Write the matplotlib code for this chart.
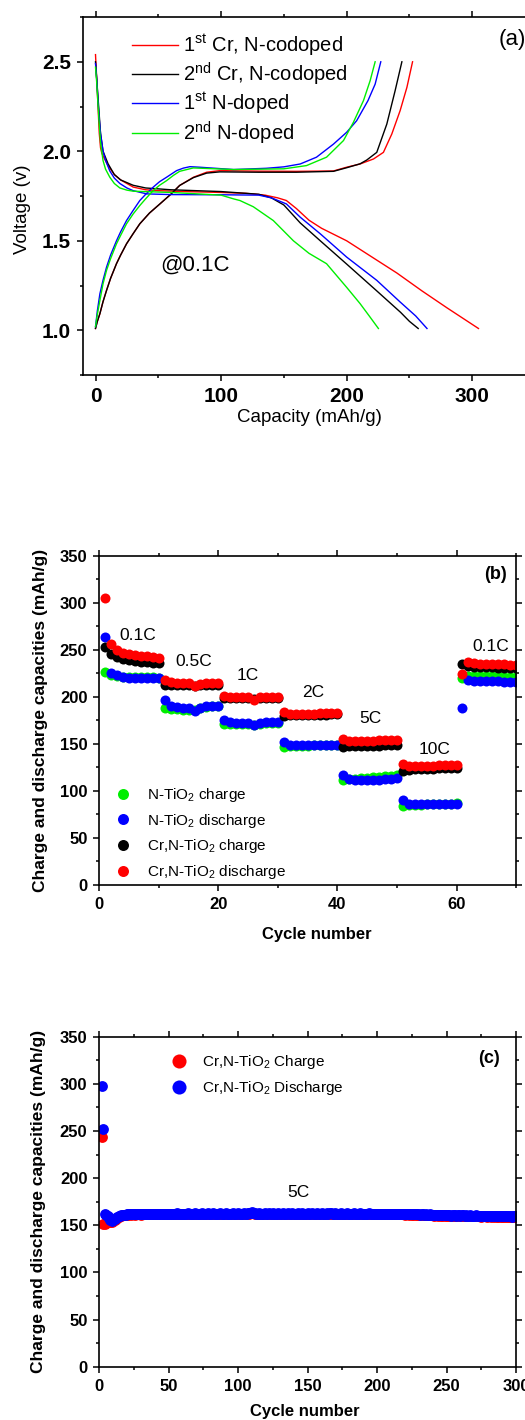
import matplotlib
matplotlib.use("Agg")
import matplotlib.pyplot as plt
from matplotlib.ticker import MultipleLocator

plt.rcParams['font.family'] = ['Liberation Sans', 'DejaVu Sans']
plt.rcParams['mathtext.fontset'] = 'custom'
plt.rcParams['mathtext.rm'] = 'Liberation Sans'
plt.rcParams['mathtext.it'] = 'Liberation Sans:italic'
plt.rcParams['mathtext.bf'] = 'Liberation Sans:bold'
plt.rcParams['axes.linewidth'] = 1.2

# ---------------- (a) charge / discharge profiles @0.1C ----------------
cr1_dis_x = [0, 1, 2, 3, 4, 5, 7, 10, 15, 20, 25, 30, 40, 50, 70, 100, 120, 135, 145, 152, 160, 170, 180, 190, 200, 220, 240, 260, 280, 305]
cr1_dis_v = [2.54, 2.40, 2.25, 2.10, 2.02, 1.99, 1.96, 1.92, 1.87, 1.84, 1.82, 1.80, 1.785, 1.78, 1.775, 1.77, 1.765, 1.755, 1.74, 1.725, 1.68, 1.615, 1.57, 1.535, 1.50, 1.41, 1.32, 1.22, 1.125, 1.01]
cr1_chg_x = [0, 1.5, 3.5, 6, 8.8, 12, 16.7, 20, 24.7, 30, 35.3, 43, 51.3, 60, 67, 78, 88.5, 99, 130, 160, 189.5, 200, 210.7, 221.4, 229.3, 236, 242.6, 248, 252.5]
cr1_chg_v = [1.01, 1.05, 1.093, 1.16, 1.223, 1.29, 1.372, 1.42, 1.483, 1.54, 1.595, 1.655, 1.706, 1.76, 1.809, 1.855, 1.883, 1.892, 1.889, 1.888, 1.89, 1.911, 1.929, 1.957, 1.994, 2.097, 2.227, 2.357, 2.50]

cr2_dis_x = [0, 1, 2, 4, 6, 10, 15, 20, 30, 40, 60, 100, 130, 140, 150, 163, 179, 200, 224, 243, 250, 257]
cr2_dis_v = [2.50, 2.40, 2.30, 2.10, 2.00, 1.93, 1.87, 1.84, 1.81, 1.795, 1.785, 1.775, 1.76, 1.74, 1.70, 1.60, 1.50, 1.37, 1.22, 1.10, 1.05, 1.01]
cr2_chg_x = [0, 1.5, 3.5, 6, 8.8, 12, 16.7, 20, 24.7, 30, 35.3, 43, 51.3, 60, 67, 78, 88.5, 99, 130, 160, 189.5, 200, 210.7, 216, 224, 232, 238.6, 244]
cr2_chg_v = [1.01, 1.05, 1.093, 1.16, 1.223, 1.29, 1.372, 1.42, 1.483, 1.54, 1.595, 1.655, 1.706, 1.76, 1.809, 1.853, 1.878, 1.885, 1.883, 1.883, 1.888, 1.908, 1.93, 1.951, 1.994, 2.152, 2.338, 2.50]

n1_dis_x = [0, 1, 2, 3, 4, 6, 8, 11.4, 15, 19.4, 25, 30, 40.7, 60, 100, 130, 140, 152, 163, 179, 200, 224, 242.6, 255, 264]
n1_dis_v = [2.49, 2.40, 2.28, 2.18, 2.10, 2.00, 1.95, 1.89, 1.85, 1.82, 1.795, 1.78, 1.762, 1.758, 1.757, 1.755, 1.74, 1.706, 1.632, 1.539, 1.409, 1.279, 1.158, 1.08, 1.01]
n1_chg_x = [0, 1.5, 3.5, 6, 8.8, 12, 16.7, 20, 24.7, 30, 35.3, 40, 46, 51, 56.6, 64.6, 70, 75.2, 83, 110, 136, 150, 163, 176, 189.5, 200, 208, 217, 222.7, 227.2]
n1_chg_v = [1.02, 1.11, 1.204, 1.28, 1.353, 1.42, 1.50, 1.55, 1.613, 1.67, 1.725, 1.76, 1.80, 1.83, 1.855, 1.892, 1.906, 1.914, 1.911, 1.898, 1.905, 1.913, 1.929, 1.967, 2.04, 2.106, 2.171, 2.283, 2.375, 2.50]

n2_dis_x = [0, 1, 2, 3, 4, 6, 8, 11.4, 15, 19.4, 25, 30, 60, 100, 110, 115, 125.7, 141.6, 157.6, 170, 184, 200, 210.7, 218, 225.3]
n2_dis_v = [2.47, 2.38, 2.26, 2.15, 2.05, 1.948, 1.90, 1.855, 1.82, 1.795, 1.783, 1.777, 1.77, 1.755, 1.734, 1.725, 1.69, 1.613, 1.50, 1.43, 1.372, 1.24, 1.149, 1.08, 1.01]
n2_chg_x = [0, 1.5, 3.5, 6, 8.8, 12, 16.7, 20, 24.7, 30, 35.3, 40, 46, 51, 56.6, 62, 67, 77.9, 110, 150, 168, 184, 197.5, 205.4, 213.4, 218.7, 222.7]
n2_chg_v = [1.02, 1.09, 1.167, 1.26, 1.335, 1.40, 1.483, 1.53, 1.595, 1.65, 1.697, 1.735, 1.781, 1.81, 1.836, 1.865, 1.888, 1.907, 1.898, 1.902, 1.92, 1.967, 2.06, 2.162, 2.283, 2.394, 2.50]

# ---------------- (b) rate capability ----------------
cycles_b = list(range(1, 71))
n_charge = [226, 223, 222, 221, 221, 221, 221, 221, 221, 220,
            188, 187, 187, 186, 186, 186, 188, 189, 190, 190,
            171, 171, 171, 171, 171, 170, 171, 172, 172, 172,
            147, 148, 148, 148, 148, 149, 149, 149, 149, 149,
            112, 113, 113, 114, 114, 115, 115, 116, 116, 117,
            84, 85, 85, 85, 86, 86, 86, 86, 86, 87,
            220, 222, 222, 222, 222, 222, 222, 221, 221, 221]
n_discharge = [264, 225, 223, 221, 220, 220, 220, 220, 220, 220,
               197, 190, 189, 188, 188, 185, 188, 190, 190, 190,
               175, 173, 172, 172, 172, 170, 172, 173, 173, 173,
               152, 149, 149, 149, 149, 149, 149, 149, 149, 149,
               117, 113, 112, 112, 112, 112, 112, 113, 113, 114,
               90, 86, 86, 86, 86, 86, 86, 86, 86, 86,
               188, 218, 217, 217, 217, 217, 217, 216, 216, 216]
crn_charge = [253, 245, 242, 240, 239, 238, 237, 237, 236, 236,
              213, 212, 212, 212, 212, 211, 212, 213, 213, 213,
              199, 199, 199, 199, 199, 198, 199, 199, 199, 199,
              180, 181, 181, 181, 181, 181, 181, 181, 182, 182,
              147, 148, 148, 148, 148, 148, 148, 149, 149, 149,
              121, 122, 123, 123, 123, 123, 124, 124, 124, 124,
              235, 233, 232, 232, 232, 232, 231, 231, 231, 231]
crn_discharge = [305, 256, 250, 247, 245, 244, 243, 243, 242, 241,
                 218, 216, 215, 215, 215, 211, 214, 215, 215, 215,
                 201, 200, 200, 200, 200, 197, 200, 200, 200, 200,
                 184, 182, 182, 182, 182, 182, 183, 183, 183, 183,
                 155, 153, 153, 153, 153, 153, 154, 154, 154, 154,
                 129, 126, 126, 126, 126, 126, 127, 127, 127, 127,
                 224, 237, 236, 235, 235, 235, 235, 235, 234, 234]
rate_labels = ['0.1C', '0.5C', '1C', '2C', '5C', '10C', '0.1C']
rate_label_x = [6.5, 15.8, 24.9, 35.9, 45.5, 56.3, 65.7]
rate_label_y = [264.6, 237.4, 222.5, 204.4, 177, 144.2, 253.3]

# ---------------- (c) long cycling at 5C ----------------
cycles_c = list(range(2, 302))
long_discharge = [
    298, 252, 162, 161, 160, 158, 156, 155, 156, 157, 158, 159, 160, 160, 161, 161, 161, 161, 161.5, 161.5,
    162, 161.5, 162, 162, 161.5, 162, 162, 162, 161.5, 162, 162, 162, 162.5, 162, 162, 162, 162.5, 162, 162, 162.5,
    162, 162.5, 162.5, 162, 162.5, 162.5, 162, 162.5, 162.5, 162.5, 162, 162.5, 162.5, 162.5, 163, 162.5, 162.5, 162.5, 162, 162.5,
    162.5, 162.5, 163, 162.5, 162.5, 162.5, 162.5, 163, 162.5, 162.5, 162.5, 162.5, 163, 162.5, 162.5, 162.5, 163, 162.5, 162.5, 162.5,
    163, 162.5, 162.5, 162.5, 162.5, 163, 162.5, 162.5, 162.5, 163, 162.5, 162.5, 162.5, 162.5, 163, 162.5, 162.5, 162.5, 163, 162.5,
    162.5, 162.5, 163, 162.5, 162.5, 163, 163, 163.5, 164, 163.5, 163, 162.5, 162.5, 163, 162.5, 162.5, 162.5, 163, 162.5, 162.5,
    163, 162.5, 162.5, 163, 162.5, 162.5, 162.5, 163, 162.5, 162.5, 163, 162.5, 162.5, 162.5, 163, 162.5, 162.5, 163, 162.5, 162.5,
    162.5, 163, 162.5, 162.5, 163, 162.5, 162.5, 162.5, 163, 162.5, 162.5, 163, 162.5, 162.5, 162.5, 163, 162.5, 162.5, 163, 162.5,
    162.5, 162.5, 163, 162.5, 163, 163, 162.5, 162.5, 163, 162.5, 162.5, 162.5, 163, 162.5, 162.5, 162.5, 163, 162.5, 162.5, 162.5,
    162.5, 163, 162.5, 162.5, 162.5, 162.5, 163, 162.5, 162.5, 162.5, 162.5, 162.5, 163, 162.5, 162.5, 162.5, 162.5, 162, 162.5, 162.5,
    162.5, 162, 162.5, 162.5, 162, 162.5, 162, 162.5, 162, 162, 162.5, 162, 162, 162, 162.5, 162, 162, 162, 161.5, 162,
    162, 161.5, 162, 161.5, 161.5, 162, 161.5, 161.5, 161.5, 161, 161.5, 161.5, 161, 161.5, 161, 161, 161.5, 161, 161, 160.5,
    161, 161, 160.5, 161, 160.5, 160.5, 161, 160.5, 160.5, 160.5, 160.5, 160, 160.5, 160.5, 160.5, 160, 160.5, 160.5, 160, 160.5,
    160.5, 160, 160.5, 160, 160, 160.5, 160, 160, 160, 160.5, 160, 160, 160, 159.5, 160, 160, 160, 159.5, 160, 160,
    159.5, 160, 159.5, 160, 159.5, 159.5, 160, 159.5, 159.5, 159.5, 160, 159.5, 159.5, 159.5, 159.5, 159, 159.5, 159.5, 159.5, 159.5]
long_charge = [
    244, 151, 151, 152, 153, 154, 154, 154, 155, 156, 157, 158, 159, 159.5, 160, 160.5, 160.5, 160.5, 161, 161,
    161.5, 161, 161.5, 161.5, 161, 161.5, 161.5, 161.5, 161, 161.5, 161.5, 161.5, 162, 161.5, 161.5, 161.5, 162, 161.5, 161.5, 162,
    161.5, 162, 162, 161.5, 162, 162, 161.5, 162, 162, 162, 161.5, 162, 162, 162, 162.5, 162, 162, 162, 161.5, 162,
    162, 162, 162.5, 162, 162, 162, 162, 162.5, 162, 162, 162, 162, 162.5, 162, 162, 162, 162.5, 162, 162, 162,
    162.5, 162, 162, 162, 162, 162.5, 162, 162, 162, 162.5, 162, 162, 162, 162, 162.5, 162, 162, 162, 162.5, 162,
    162, 162, 162.5, 162, 162, 162.5, 162.5, 163, 163.5, 163, 162.5, 162, 162, 162.5, 162, 162, 162, 162.5, 162, 162,
    162.5, 162, 162, 162.5, 162, 162, 162, 162.5, 162, 162, 162.5, 162, 162, 162, 162.5, 162, 162, 162.5, 162, 162,
    162, 162.5, 162, 162, 162.5, 162, 162, 162, 162.5, 162, 162, 162.5, 162, 162, 162, 162.5, 162, 162, 162.5, 162,
    162, 162, 162.5, 162, 162.5, 162.5, 162, 162, 162.5, 162, 162, 162, 162.5, 162, 162, 162, 162.5, 162, 162, 162,
    162, 162.5, 162, 162, 162, 162, 162.5, 162, 162, 162, 162, 162, 162.5, 162, 162, 162, 162, 161.5, 162, 162,
    162, 161.5, 162, 162, 161.5, 162, 161.5, 162, 161.5, 161.5, 162, 161.5, 161.5, 161.5, 162, 161.5, 161.5, 161.5, 161, 161.5,
    161.5, 161, 161.5, 161, 161, 161.5, 161, 161, 161, 160.5, 161, 161, 160.5, 161, 160.5, 160.5, 161, 160.5, 160.5, 160,
    160.5, 160.5, 160, 160.5, 160, 160, 160.5, 160, 160, 160, 160, 159.5, 160, 160, 160, 159.5, 160, 160, 159.5, 160,
    160, 159.5, 160, 159.5, 159.5, 160, 159.5, 159.5, 159.5, 160, 159.5, 159.5, 159.5, 159, 159.5, 159.5, 159.5, 159, 159.5, 159.5,
    159, 159.5, 159, 159.5, 159, 159, 159.5, 159, 159, 159, 159.5, 159, 159, 159, 159, 158.5, 159, 159, 159, 159]


def style_ticks(ax, size):
    ax.tick_params(which='both', direction='out', top=True, right=True, width=1.1)
    ax.tick_params(which='major', length=4.5, pad=4, labelsize=size)
    ax.tick_params(which='minor', length=2.5)
    for lab in ax.get_xticklabels() + ax.get_yticklabels():
        lab.set_fontweight('bold')


fig = plt.figure(figsize=(5.25, 14.2), dpi=100)

# ---- panel (a)
ax1 = fig.add_axes([0.158, 0.7359, 0.861, 0.2521])
ax1.plot(cr1_dis_x, cr1_dis_v, color='#ff0000', lw=1.0, label=r'1$^{\mathrm{st}}$ Cr, N-codoped')
ax1.plot(cr1_chg_x, cr1_chg_v, color='#ff0000', lw=1.0)
ax1.plot(cr2_dis_x, cr2_dis_v, color='black', lw=1.0, label=r'2$^{\mathrm{nd}}$ Cr, N-codoped')
ax1.plot(cr2_chg_x, cr2_chg_v, color='black', lw=1.0)
ax1.plot(n1_dis_x, n1_dis_v, color='#0000ff', lw=1.0, label=r'1$^{\mathrm{st}}$ N-doped')
ax1.plot(n1_chg_x, n1_chg_v, color='#0000ff', lw=1.0)
ax1.plot(n2_dis_x, n2_dis_v, color='#00ee00', lw=1.0, label=r'2$^{\mathrm{nd}}$ N-doped')
ax1.plot(n2_chg_x, n2_chg_v, color='#00ee00', lw=1.0)
ax1.set_xlim(-10, 350)
ax1.set_ylim(0.75, 2.75)
ax1.xaxis.set_major_locator(MultipleLocator(100))
ax1.xaxis.set_minor_locator(MultipleLocator(50))
ax1.yaxis.set_major_locator(MultipleLocator(0.5))
ax1.yaxis.set_minor_locator(MultipleLocator(0.25))
style_ticks(ax1, 15)
ax1.set_xlabel('Capacity (mAh/g)', fontsize=13.5, va='center')
ax1.xaxis.set_label_coords(0.502, -0.12)
ax1.set_ylabel('Voltage (v)', fontsize=13.5, va='center')
ax1.yaxis.set_label_coords(-0.133, 0.464)
ax1.legend(loc='upper left', bbox_to_anchor=(0.108, 0.958), frameon=False, fontsize=14.5,
           handlelength=2.28, handletextpad=0.25, labelspacing=0.15, borderpad=0, borderaxespad=0)
ax1.text(79.5, 1.362, '@0.1C', fontsize=16, ha='center', va='center')
ax1.text(332, 2.623, '(a)', fontsize=16, ha='center', va='center')

# ---- panel (b)
ax2 = fig.add_axes([0.189, 0.3768, 0.794, 0.2319])
ms_b = 7.2
ax2.plot(cycles_b, n_charge, 'o', color='#00ee00', ms=ms_b, mew=0, label=r'N-TiO$_2$ charge')
ax2.plot(cycles_b, n_discharge, 'o', color='#0000ff', ms=ms_b, mew=0, label=r'N-TiO$_2$ discharge')
ax2.plot(cycles_b, crn_charge, 'o', color='black', ms=ms_b, mew=0, label=r'Cr,N-TiO$_2$ charge')
ax2.plot(cycles_b, crn_discharge, 'o', color='#ff0000', ms=ms_b, mew=0, label=r'Cr,N-TiO$_2$ discharge')
ax2.set_xlim(0, 70)
ax2.set_ylim(0, 350)
ax2.xaxis.set_major_locator(MultipleLocator(20))
ax2.xaxis.set_minor_locator(MultipleLocator(10))
ax2.yaxis.set_major_locator(MultipleLocator(50))
ax2.yaxis.set_minor_locator(MultipleLocator(25))
style_ticks(ax2, 12)
ax2.set_xlabel('Cycle number', fontsize=12, fontweight='bold', va='center')
ax2.xaxis.set_label_coords(0.522, -0.152)
ax2.set_ylabel('Charge and discharge capacities (mAh/g)', fontsize=12.5, fontweight='bold', va='center')
ax2.yaxis.set_label_coords(-0.142, 0.5)
for lab, lx, ly in zip(rate_labels, rate_label_x, rate_label_y):
    ax2.text(lx, ly, lab, fontsize=12.5, ha='center', va='center')
ax2.text(66.6, 330, '(b)', fontsize=13, fontweight='bold', ha='center', va='center')
ax2.legend(loc='upper left', bbox_to_anchor=(0.0386, 0.30), frameon=False, fontsize=11,
           handlelength=1.0, handletextpad=1.06, labelspacing=0.5, markerscale=1.1,
           borderpad=0, borderaxespad=0)

# ---- panel (c)
ax3 = fig.add_axes([0.189, 0.0375, 0.794, 0.2324])
ms_c = 7.8
ax3.plot(cycles_c, long_charge, 'o', color='#ff0000', ms=ms_c, mew=0, label=r'Cr,N-TiO$_2$ Charge')
ax3.plot(cycles_c, long_discharge, 'o', color='#0000ff', ms=ms_c, mew=0, label=r'Cr,N-TiO$_2$ Discharge')
ax3.set_xlim(0, 300)
ax3.set_ylim(0, 350)
ax3.xaxis.set_major_locator(MultipleLocator(50))
ax3.xaxis.set_minor_locator(MultipleLocator(25))
ax3.yaxis.set_major_locator(MultipleLocator(50))
ax3.yaxis.set_minor_locator(MultipleLocator(25))
style_ticks(ax3, 12)
ax3.set_xlabel('Cycle number', fontsize=12, fontweight='bold', va='center')
ax3.xaxis.set_label_coords(0.494, -0.136)
ax3.set_ylabel('Charge and discharge capacities (mAh/g)', fontsize=12.5, fontweight='bold', va='center')
ax3.yaxis.set_label_coords(-0.145, 0.5)
ax3.text(143.7, 184.6, '5C', fontsize=12.5, ha='center', va='center')
ax3.text(280.5, 327, '(c)', fontsize=13, fontweight='bold', ha='center', va='center')
ax3.legend(loc='upper left', bbox_to_anchor=(0.173, 0.95), frameon=False, fontsize=11,
           handlelength=1.0, handletextpad=0.98, labelspacing=0.5, markerscale=1.3,
           borderpad=0, borderaxespad=0)

fig.savefig('out.png', dpi=100)
